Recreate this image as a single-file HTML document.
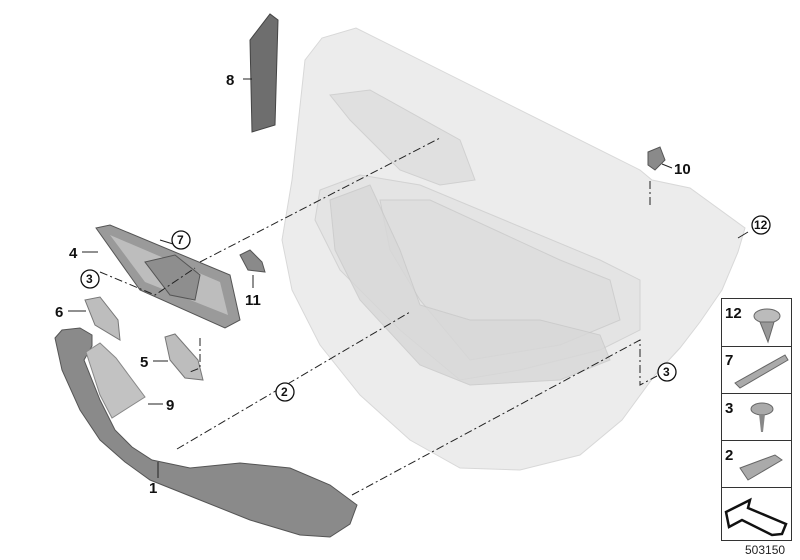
<!DOCTYPE html>
<html><head><meta charset="utf-8"><style>
html,body{margin:0;padding:0;background:#fff;}
svg{display:block;font-family:"Liberation Sans",sans-serif;}
.l{font-weight:bold;font-size:15px;fill:#111;}
.c{font-weight:bold;font-size:12px;fill:#111;}
.d{stroke:#222;stroke-width:1;fill:none;stroke-dasharray:8,3,2,3;}
.s{stroke:#222;stroke-width:1;fill:none;}
</style></head><body>
<svg width="800" height="560" viewBox="0 0 800 560">
<!-- door panel -->
<path d="M305,60 L322,38 L356,28 L640,170 L652,180 L690,188 L745,228 L738,252 L722,290 L700,322 L680,348 L655,375 L622,420 L580,455 L520,470 L460,468 L410,440 L360,395 L320,345 L292,290 L282,240 L292,180 Z" fill="#ececec" stroke="#d8d8d8"/>
<path d="M330,95 L370,90 L460,140 L475,180 L440,185 L400,170 L350,120 Z" fill="#e0e0e0" stroke="#d0d0d0"/>
<path d="M320,190 L360,175 L420,185 L600,260 L640,280 L640,330 L600,350 L520,370 L460,380 L400,330 L340,270 L315,220 Z" fill="#e4e4e4" stroke="#d2d2d2"/>
<path d="M380,200 L430,200 L560,260 L610,280 L620,320 L560,345 L470,360 L420,300 L390,250 Z" fill="#dedede" stroke="#cecece"/>
<path d="M330,200 L370,185 L400,250 L420,305 L470,320 L540,320 L600,335 L610,360 L560,380 L470,385 L420,365 L360,300 L335,250 Z" fill="#d8d8d8" stroke="#c8c8c8" opacity="0.8"/>
<!-- part 8 -->
<path d="M250,40 L270,14 L278,20 L275,125 L252,132 Z" fill="#6e6e6e" stroke="#444"/>
<!-- part 10 -->
<path d="M648,152 L660,147 L665,160 L655,170 L648,165 Z" fill="#8a8a8a" stroke="#555"/>
<!-- part 4 bezel -->
<path d="M96,228 L110,225 L230,275 L240,320 L225,328 L140,290 Z" fill="#9a9a9a" stroke="#555"/>
<path d="M110,235 L220,282 L228,315 L145,282 Z" fill="#bdbdbd"/>
<path d="M145,262 L175,255 L200,275 L195,300 L170,295 Z" fill="#8e8e8e" stroke="#555"/>
<!-- part 11 -->
<path d="M240,255 L250,250 L262,262 L265,272 L248,270 Z" fill="#8a8a8a" stroke="#555"/>
<!-- part 6 -->
<path d="M85,300 L100,297 L118,320 L120,340 L95,325 Z" fill="#bdbdbd" stroke="#777"/>
<!-- part 5 -->
<path d="M165,337 L175,334 L198,360 L203,380 L185,378 L170,360 Z" fill="#bdbdbd" stroke="#777"/>
<!-- part 1 -->
<path d="M55,338 L62,330 L80,328 L92,335 L92,346 L84,360 L100,400 L115,430 L132,447 L152,460 L190,468 L240,463 L290,468 L330,485 L357,505 L350,524 L330,537 L300,535 L250,520 L200,500 L150,480 L125,462 L100,440 L80,410 L62,370 Z" fill="#8a8a8a" stroke="#555"/>
<!-- part 9 -->
<path d="M86,352 L100,343 L116,358 L145,397 L112,418 L100,395 Z" fill="#c2c2c2" stroke="#888"/>
<!-- connector lines -->
<path class="d" d="M200,262 L440,138"/>
<path class="d" d="M177,449 L410,312"/>
<path class="d" d="M352,495 L640,340 L640,385 L657,376"/>
<path class="d" d="M100,272 L155,295 L195,268"/>
<path class="d" d="M200,338 L200,368 L190,372"/>
<path class="d" d="M650,205 L650,178"/>
<!-- leader lines -->
<path class="s" d="M243,79 L252,79 M672,168 L662,164 M82,252 L98,252 M68,311 L86,311 M153,361 L168,361 M148,404 L163,404 M158,478 L158,462 M253,288 L253,275 M748,232 L738,238 M173,244 L160,240"/>
<!-- labels -->
<text class="l" x="226" y="85">8</text>
<text class="l" x="674" y="174">10</text>
<text class="l" x="69" y="258">4</text>
<text class="l" x="245" y="305">11</text>
<text class="l" x="55" y="317">6</text>
<text class="l" x="140" y="367">5</text>
<text class="l" x="166" y="410">9</text>
<text class="l" x="149" y="493">1</text>
<g fill="#fff" stroke="#111" stroke-width="1.3">
<circle cx="181" cy="240" r="9"/><circle cx="90" cy="279" r="9"/><circle cx="285" cy="392" r="9"/><circle cx="667" cy="372" r="9"/><circle cx="761" cy="225" r="9"/>
</g>
<text class="c" x="177" y="244">7</text><text class="c" x="86" y="283">3</text><text class="c" x="281" y="396">2</text><text class="c" x="663" y="376">3</text><text class="c" x="754" y="229">12</text>
<!-- legend -->
<g stroke="#333" fill="none" stroke-width="1">
<rect x="721.5" y="298.5" width="70" height="242"/>
<path d="M721,346.5 H792 M721,393.5 H792 M721,440.5 H792 M721,487.5 H792"/>
</g>
<text class="l" x="725" y="318">12</text>
<text class="l" x="725" y="365">7</text>
<text class="l" x="725" y="413">3</text>
<text class="l" x="725" y="460">2</text>
<ellipse cx="767" cy="316" rx="13" ry="7" fill="#bbb" stroke="#666"/>
<path d="M760,322 L774,322 L768,342 Z" fill="#999" stroke="#666"/>
<path d="M735,383 L785,355 L788,360 L740,388 Z" fill="#aaa" stroke="#666"/>
<ellipse cx="762" cy="409" rx="11" ry="6" fill="#aaa" stroke="#666"/>
<path d="M759,414 L765,414 L763,432 L761,432 Z" fill="#888"/>
<path d="M740,468 L775,455 L782,460 L748,480 Z" fill="#aaa" stroke="#666"/>
<path d="M726,512 L750,500 L748,508 L786,524 L782,534 L772,535 L742,520 L729,527 Z" fill="#fff" stroke="#111" stroke-width="2.5"/>
<text x="745" y="554" font-size="12" fill="#222">503150</text>
</svg>
</body></html>
